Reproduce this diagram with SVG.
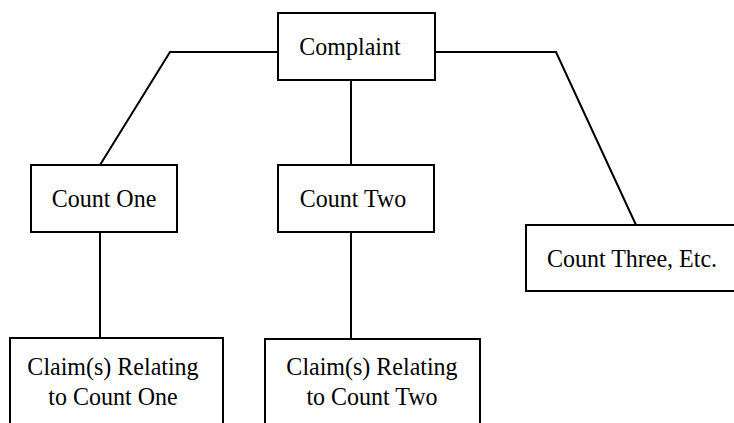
<svg xmlns="http://www.w3.org/2000/svg" width="734" height="423" viewBox="0 0 734 423">
  <style>
    .box { fill: #ffffff; stroke: #000000; stroke-width: 2; }
    .link { fill: none; stroke: #000000; stroke-width: 2; stroke-linejoin: miter; }
    .label { font-family: "Liberation Serif", "Times New Roman", serif; font-size: 24px; fill: #000000; text-anchor: middle; }
  </style>
  <rect width="734" height="423" fill="#ffffff"/>

  <!-- connectors -->
  <g id="connectors">
    <polyline class="link" points="278,52 170,52 100,165"/>
    <polyline class="link" points="435,52 556,52 636,225"/>
    <line class="link" x1="351" y1="80" x2="351" y2="166"/>
    <line class="link" x1="100" y1="232" x2="100" y2="338"/>
    <line class="link" x1="351" y1="232" x2="351" y2="339"/>
  </g>

  <!-- labels are drawn slightly taller than the font's natural proportions -->
  <g id="complaint">
    <rect class="box" x="278" y="13" width="157" height="67"/>
    <text class="label" transform="translate(350,55) scale(1,1.09)">Complaint</text>
  </g>

  <g id="count-one">
    <rect class="box" x="31" y="165" width="146" height="67"/>
    <text class="label" transform="translate(104,207) scale(1,1.09)">Count One</text>
  </g>

  <g id="count-two">
    <rect class="box" x="278" y="165" width="156" height="67"/>
    <text class="label" transform="translate(353,207) scale(1,1.09)">Count Two</text>
  </g>

  <g id="count-three">
    <rect class="box" x="526" y="225" width="220" height="66"/>
    <text class="label" transform="translate(632,267) scale(1,1.09)">Count Three, Etc.</text>
  </g>

  <g id="claims-one">
    <rect class="box" x="10" y="338" width="213" height="100"/>
    <text class="label" transform="translate(113,375) scale(1,1.09)">Claim(s) Relating</text>
    <text class="label" transform="translate(113,405) scale(1,1.09)">to Count One</text>
  </g>

  <g id="claims-two">
    <rect class="box" x="265" y="339" width="215" height="100"/>
    <text class="label" transform="translate(372,375) scale(1,1.09)">Claim(s) Relating</text>
    <text class="label" transform="translate(372,405) scale(1,1.09)">to Count Two</text>
  </g>
</svg>
